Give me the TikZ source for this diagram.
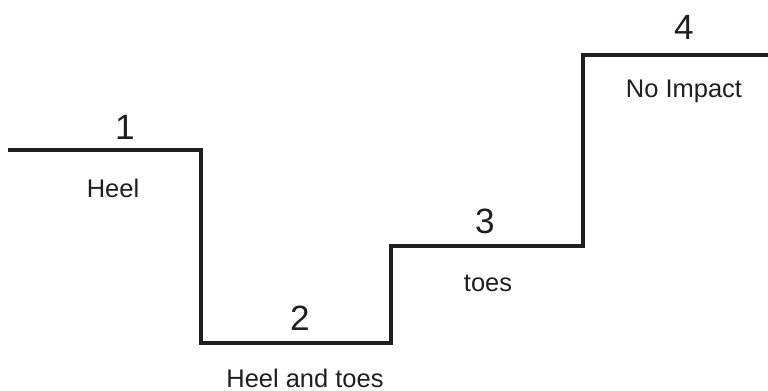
\documentclass[tikz,border=0pt]{standalone}
\usepackage{fontspec}
\setmainfont{Liberation Sans}
\usetikzlibrary{positioning}

\begin{document}
\begin{tikzpicture}[x=0.02cm, y=-0.02cm,
    stepline/.style={line width=2.4pt, line join=miter, draw=black!88},
    stepnum/.style={font=\fontsize{20}{24}\selectfont, text=black!88, inner sep=0pt},
    steptext/.style={font=\fontsize{14.5}{17}\selectfont, text=black!88, inner sep=0pt}]
    \useasboundingbox (0,0) rectangle (768,391);
    % Corners of the staircase
    \coordinate (s0) at (8,150);
    \coordinate (s1) at (201,150);
    \coordinate (s2) at (201,343);
    \coordinate (s3) at (391,343);
    \coordinate (s4) at (391,246);
    \coordinate (s5) at (583,246);
    \coordinate (s6) at (583,55);
    \coordinate (s7) at (768,55);
    % Staircase
    \draw[stepline] (s0) -- (s1) -- (s2) -- (s3) -- (s4) -- (s5) -- (s6) -- (s7);
    % Step numbers
    \node[stepnum] (one) at (125,127) {1};
    \node[stepnum] (two) at (300,318) {2};
    \node[stepnum] (three) at (485,221) {3};
    \node[stepnum] (four) at (684,27) {4};
    % Contact labels
    \node[steptext] (heel) at (113,188) {Heel};
    \node[steptext] (heeltoes) at (305,378) {Heel and toes};
    \node[steptext] (toes) at (488,283) {toes};
    \node[steptext] (noimpact) at (684,91) {No Impact};
\end{tikzpicture}
\end{document}
